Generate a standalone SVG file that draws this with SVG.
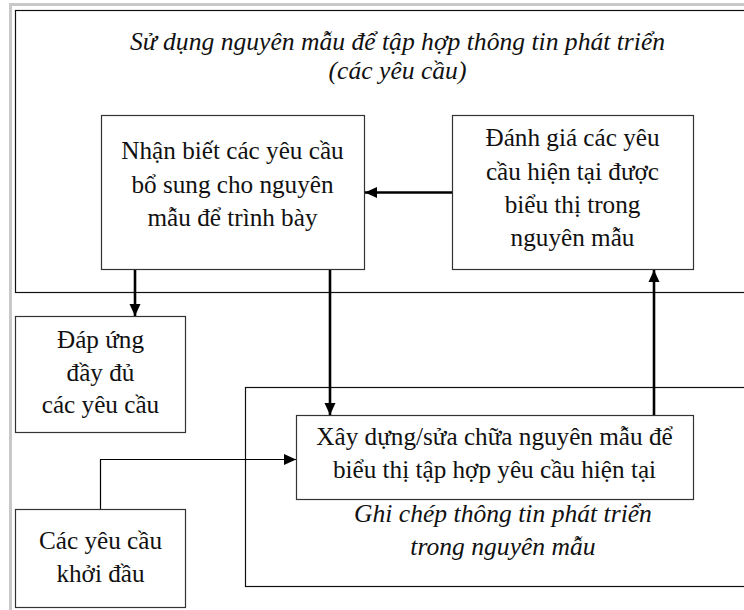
<svg xmlns="http://www.w3.org/2000/svg" width="744" height="610" viewBox="0 0 744 610">
<style>
.frame{fill:none;stroke:#c8c8c8;stroke-width:3}
.group{fill:none;stroke:#111;stroke-width:1.2}
.box{fill:#fff;stroke:#333;stroke-width:1.2}
text{font-family:"Liberation Serif","Times New Roman",serif;font-size:25.2px;fill:#111;text-anchor:middle}
.it{font-style:italic;font-size:25.6px}
.thick{fill:none;stroke:#000;stroke-width:2.6}
.thin{fill:none;stroke:#000;stroke-width:1.2}
</style>
<defs>
<marker id="ah" markerUnits="userSpaceOnUse" markerWidth="12" markerHeight="12" viewBox="0 0 12 12" refX="12" refY="6" orient="auto">
<path d="M0,0.5 L12,6 L0,11.5 Z" fill="#000"/>
</marker>
</defs>
<rect width="744" height="610" fill="#fff"/>
<path class="frame" d="M10.5,610 V4.5 H744"/>
<g id="group-top">
<rect class="group" x="15.5" y="10.5" width="740" height="282"/>
<text class="it" x="397.5" y="50">Sử dụng nguyên mẫu để tập hợp thông tin phát triển</text>
<text class="it" x="397.5" y="79">(các yêu cầu)</text>
</g>
<g id="group-bottom">
<rect class="group" x="245.5" y="387.5" width="510" height="199"/>
<text class="it" x="503" y="522">Ghi chép thông tin phát triển</text>
<text class="it" x="503" y="555">trong nguyên mẫu</text>
</g>
<g id="n-nhanbiet">
<rect class="box" x="101.5" y="115.5" width="263" height="154"/>
<text x="232.5" y="159">Nhận biết các yêu cầu</text>
<text x="232.5" y="193">bổ sung cho nguyên</text>
<text x="232.5" y="226">mẫu để trình bày</text>
</g>
<g id="n-danhgia">
<rect class="box" x="452.5" y="115.5" width="241" height="154"/>
<text x="572.5" y="146">Đánh giá các yêu</text>
<text x="572.5" y="180">cầu hiện tại được</text>
<text x="572.5" y="213">biểu thị trong</text>
<text x="572.5" y="246">nguyên mẫu</text>
</g>
<g id="n-dapung">
<rect class="box" x="15.5" y="316.5" width="170" height="116"/>
<text x="100.5" y="348">Đáp ứng</text>
<text x="100.5" y="381">đầy đủ</text>
<text x="100.5" y="413">các yêu cầu</text>
</g>
<g id="n-khoidau">
<rect class="box" x="15.5" y="509.5" width="170" height="98"/>
<text x="100.5" y="549">Các yêu cầu</text>
<text x="100.5" y="582">khởi đầu</text>
</g>
<g id="n-xaydung">
<rect class="box" x="296.5" y="415.5" width="397" height="84"/>
<text x="494.5" y="445">Xây dựng/sửa chữa nguyên mẫu để</text>
<text x="494.5" y="478">biểu thị tập hợp yêu cầu hiện tại</text>
</g>
<g id="connectors">
<path class="thick" d="M452,192.5 H365" marker-end="url(#ah)"/>
<path class="thick" d="M135,270 V316" marker-end="url(#ah)"/>
<path class="thick" d="M330,270 V415" marker-end="url(#ah)"/>
<path class="thick" d="M654,415 V270" marker-end="url(#ah)"/>
<path class="thin" d="M100.5,509 V459.5 H296" marker-end="url(#ah)"/>
</g>
</svg>
